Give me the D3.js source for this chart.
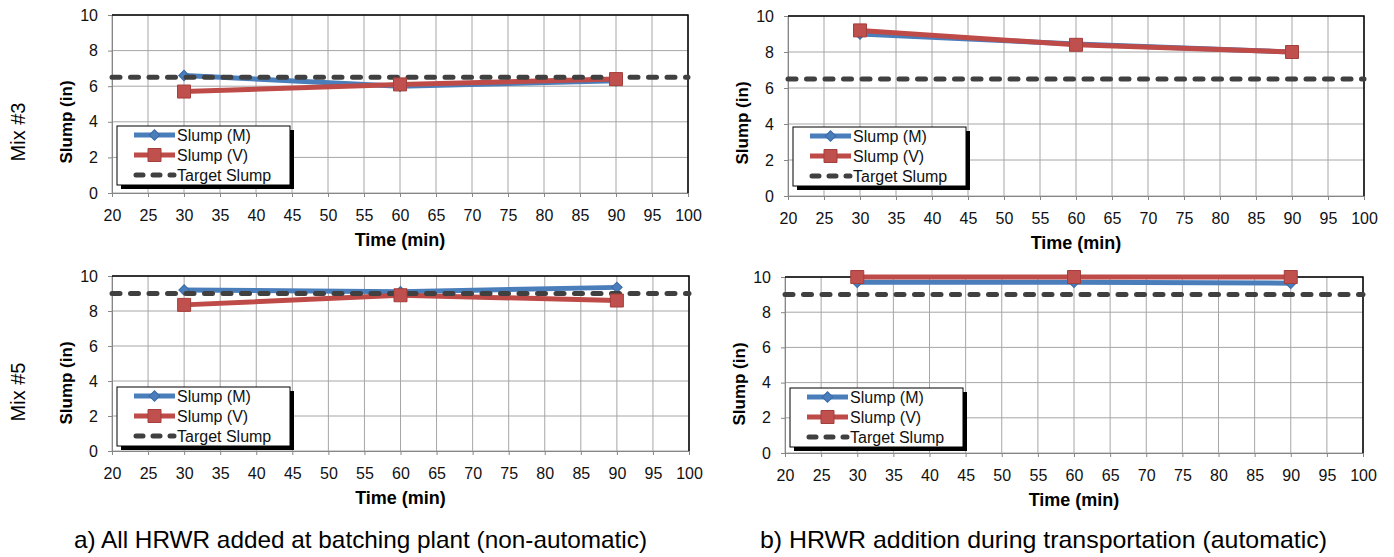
<!DOCTYPE html>
<html>
<head>
<meta charset="utf-8">
<script src="https://cdn.jsdelivr.net/npm/d3@7"></script>
<style>
    body { margin: 0; background: #fff; }
    svg { display: block; font-family: 'Liberation Sans', Arial, sans-serif; }
</style>
</head>
<body>
<svg id="chart" width="1394" height="557"></svg>
<script>
// data
const times = [30, 60, 90];
const xTickValues = [20, 25, 30, 35, 40, 45, 50, 55, 60, 65, 70, 75, 80, 85, 90, 95, 100];
const yTickValues = [0, 2, 4, 6, 8, 10];
const seriesNames = ['Slump (M)', 'Slump (V)', 'Target Slump'];

const mix3NonAutoM = [6.6, 6.0, 6.3];
const mix3NonAutoV = [5.7, 6.1, 6.4];
const mix3AutoM = [9.0, 8.45, 8.0];
const mix3AutoV = [9.2, 8.4, 8.0];
const mix5NonAutoM = [9.2, 9.1, 9.35];
const mix5NonAutoV = [8.35, 8.9, 8.6];
const mix5AutoM = [9.7, 9.7, 9.65];
const mix5AutoV = [10.0, 10.0, 10.0];
const targetMix3 = 6.5;
const targetMix5 = 9.0;

const mixLabels = ['Mix #3', 'Mix #5'];
const captions = [
    'a) All HRWR added at batching plant (non-automatic)',
    'b) HRWR addition during transportation (automatic)'
];

const blue = '#4a7ebb';
const red = '#be4b48';
const dark = '#404040';

const svg = d3.select('#chart');

// plot frames (left, right, top, bottom)
const panels = [
    { x0: 112, x1: 688, y0: 15, y1: 193, m: mix3NonAutoM, v: mix3NonAutoV, target: targetMix3 },
    { x0: 788, x1: 1364, y0: 16, y1: 196, m: mix3AutoM, v: mix3AutoV, target: targetMix3 },
    { x0: 112, x1: 689, y0: 276, y1: 451, m: mix5NonAutoM, v: mix5NonAutoV, target: targetMix5 },
    { x0: 785, x1: 1363, y0: 277, y1: 453, m: mix5AutoM, v: mix5AutoV, target: targetMix5 }
];

const diamond = d3.symbol().type(d3.symbolSquare).size(56);
const square = d3.symbol().type(d3.symbolSquare).size(169);

function drawMarker(sel, kind) {
    if (kind === 'M') {
        sel.append('path')
            .attr('d', diamond)
            .attr('transform', 'rotate(45)')
            .attr('fill', blue)
            .attr('stroke', '#3a6aa5')
            .attr('stroke-width', 1);
    } else {
        sel.append('path')
            .attr('d', square)
            .attr('fill', '#c0504d')
            .attr('stroke', '#a33f3c')
            .attr('stroke-width', 1);
    }
}

function drawPanel(p) {
    const x = d3.scaleLinear().domain([20, 100]).range([p.x0, p.x1]);
    const y = d3.scaleLinear().domain([0, 10]).range([p.y1, p.y0]);
    const g = svg.append('g');

    // grid
    g.append('g').selectAll('line')
        .data(xTickValues)
        .join('line')
        .attr('x1', d => x(d)).attr('x2', d => x(d))
        .attr('y1', p.y0).attr('y2', p.y1)
        .attr('stroke', '#a6a6a6')
        .attr('stroke-width', 1);
    g.append('g').selectAll('line')
        .data(yTickValues)
        .join('line')
        .attr('x1', p.x0).attr('x2', p.x1)
        .attr('y1', d => y(d)).attr('y2', d => y(d))
        .attr('stroke', '#a6a6a6')
        .attr('stroke-width', 1);

    // axes
    const xAxis = g.append('g')
        .attr('transform', `translate(0,${p.y1})`)
        .call(d3.axisBottom(x).tickValues(xTickValues).tickSize(4).tickPadding(13).tickSizeOuter(0));
    const yAxis = g.append('g')
        .attr('transform', `translate(${p.x0},0)`)
        .call(d3.axisLeft(y).tickValues(yTickValues).tickSize(4).tickPadding(10).tickSizeOuter(0));
    [xAxis, yAxis].forEach(a => {
        a.select('.domain').attr('stroke', '#868686');
        a.selectAll('.tick line').attr('stroke', '#868686');
        a.selectAll('.tick text')
            .attr('fill', '#111')
            .style('font-size', '16px')
            .style('font-family', "'Liberation Sans', Arial, sans-serif");
    });

    // top / right border
    g.append('path')
        .attr('d', `M${p.x0},${p.y0}H${p.x1}V${p.y1}`)
        .attr('fill', 'none')
        .attr('stroke', '#000')
        .attr('stroke-width', 1.5);

    const line = d3.line().x(d => x(d.t)).y(d => y(d.v));
    const mData = times.map((t, i) => ({ t: t, v: p.m[i] }));
    const vData = times.map((t, i) => ({ t: t, v: p.v[i] }));

    g.append('path').datum(mData)
        .attr('d', line).attr('fill', 'none')
        .attr('stroke', blue).attr('stroke-width', 5).attr('stroke-linejoin', 'round');
    g.append('path').datum(vData)
        .attr('d', line).attr('fill', 'none')
        .attr('stroke', red).attr('stroke-width', 5).attr('stroke-linejoin', 'round');

    g.selectAll('g.mk-m')
        .data(mData)
        .join('g')
        .attr('class', 'mk-m')
        .attr('transform', d => `translate(${x(d.t)},${y(d.v)})`)
        .each(function () { drawMarker(d3.select(this), 'M'); });

    // target line
    g.append('line')
        .attr('x1', x(20)).attr('x2', x(100))
        .attr('y1', y(p.target)).attr('y2', y(p.target))
        .attr('stroke', dark).attr('stroke-width', 5)
        .attr('stroke-linecap', 'round')
        .attr('stroke-dasharray', '8 10.5');

    g.selectAll('g.mk-v')
        .data(vData)
        .join('g')
        .attr('class', 'mk-v')
        .attr('transform', d => `translate(${x(d.t)},${y(d.v)})`)
        .each(function () { drawMarker(d3.select(this), 'V'); });

    // axis titles
    g.append('text')
        .attr('transform', `translate(${p.x0 - 40},${p.y0 + 107}) rotate(-90)`)
        .attr('text-anchor', 'middle')
        .attr('font-weight', 'bold')
        .style('font-size', '17px')
        .text('Slump (in)');
    g.append('text')
        .attr('x', (p.x0 + p.x1) / 2)
        .attr('y', p.y1 + 53)
        .attr('text-anchor', 'middle')
        .attr('font-weight', 'bold')
        .style('font-size', '18px')
        .text('Time (min)');

    // legend
    const lg = g.append('g')
        .attr('transform', `translate(${p.x0 + 5},${p.y0 + 111})`);
    lg.append('rect')
        .attr('x', 4).attr('y', 4).attr('width', 173).attr('height', 59)
        .attr('fill', '#000');
    lg.append('rect')
        .attr('width', 173).attr('height', 59)
        .attr('fill', '#fff').attr('stroke', '#000').attr('stroke-width', 1);

    const rows = lg.selectAll('g.row')
        .data(seriesNames)
        .join('g')
        .attr('class', 'row')
        .attr('transform', (d, i) => `translate(0,${9 + i * 20})`);

    rows.each(function (d, i) {
        const r = d3.select(this);
        if (i < 2) {
            r.append('line')
                .attr('x1', 17).attr('x2', 58)
                .attr('stroke', i === 0 ? blue : red)
                .attr('stroke-width', 5);
            const mk = r.append('g').attr('transform', 'translate(37.5,0)');
            drawMarker(mk, i === 0 ? 'M' : 'V');
        } else {
            r.append('line')
                .attr('x1', 19).attr('x2', 57)
                .attr('stroke', dark).attr('stroke-width', 5)
                .attr('stroke-linecap', 'round')
                .attr('stroke-dasharray', '7 10');
        }
        r.append('text')
            .attr('x', 60)
            .attr('dy', '0.36em')
            .style('font-size', '16px')
            .attr('fill', '#111')
            .text(d);
    });
}

panels.forEach(drawPanel);

// row labels
svg.selectAll('text.mix')
    .data(mixLabels)
    .join('text')
    .attr('class', 'mix')
    .attr('transform', (d, i) => `translate(25,${i === 0 ? 132 : 392}) rotate(-90)`)
    .attr('text-anchor', 'middle')
    .style('font-size', '20px')
    .text(d => d);

// captions
svg.selectAll('text.caption')
    .data(captions)
    .join('text')
    .attr('class', 'caption')
    .attr('x', (d, i) => i === 0 ? 74 : 760)
    .attr('y', 548)
    .attr('textLength', (d, i) => i === 0 ? 573 : 567)
    .attr('lengthAdjust', 'spacingAndGlyphs')
    .style('font-size', '24px')
    .text(d => d);
</script>
</body>
</html>
